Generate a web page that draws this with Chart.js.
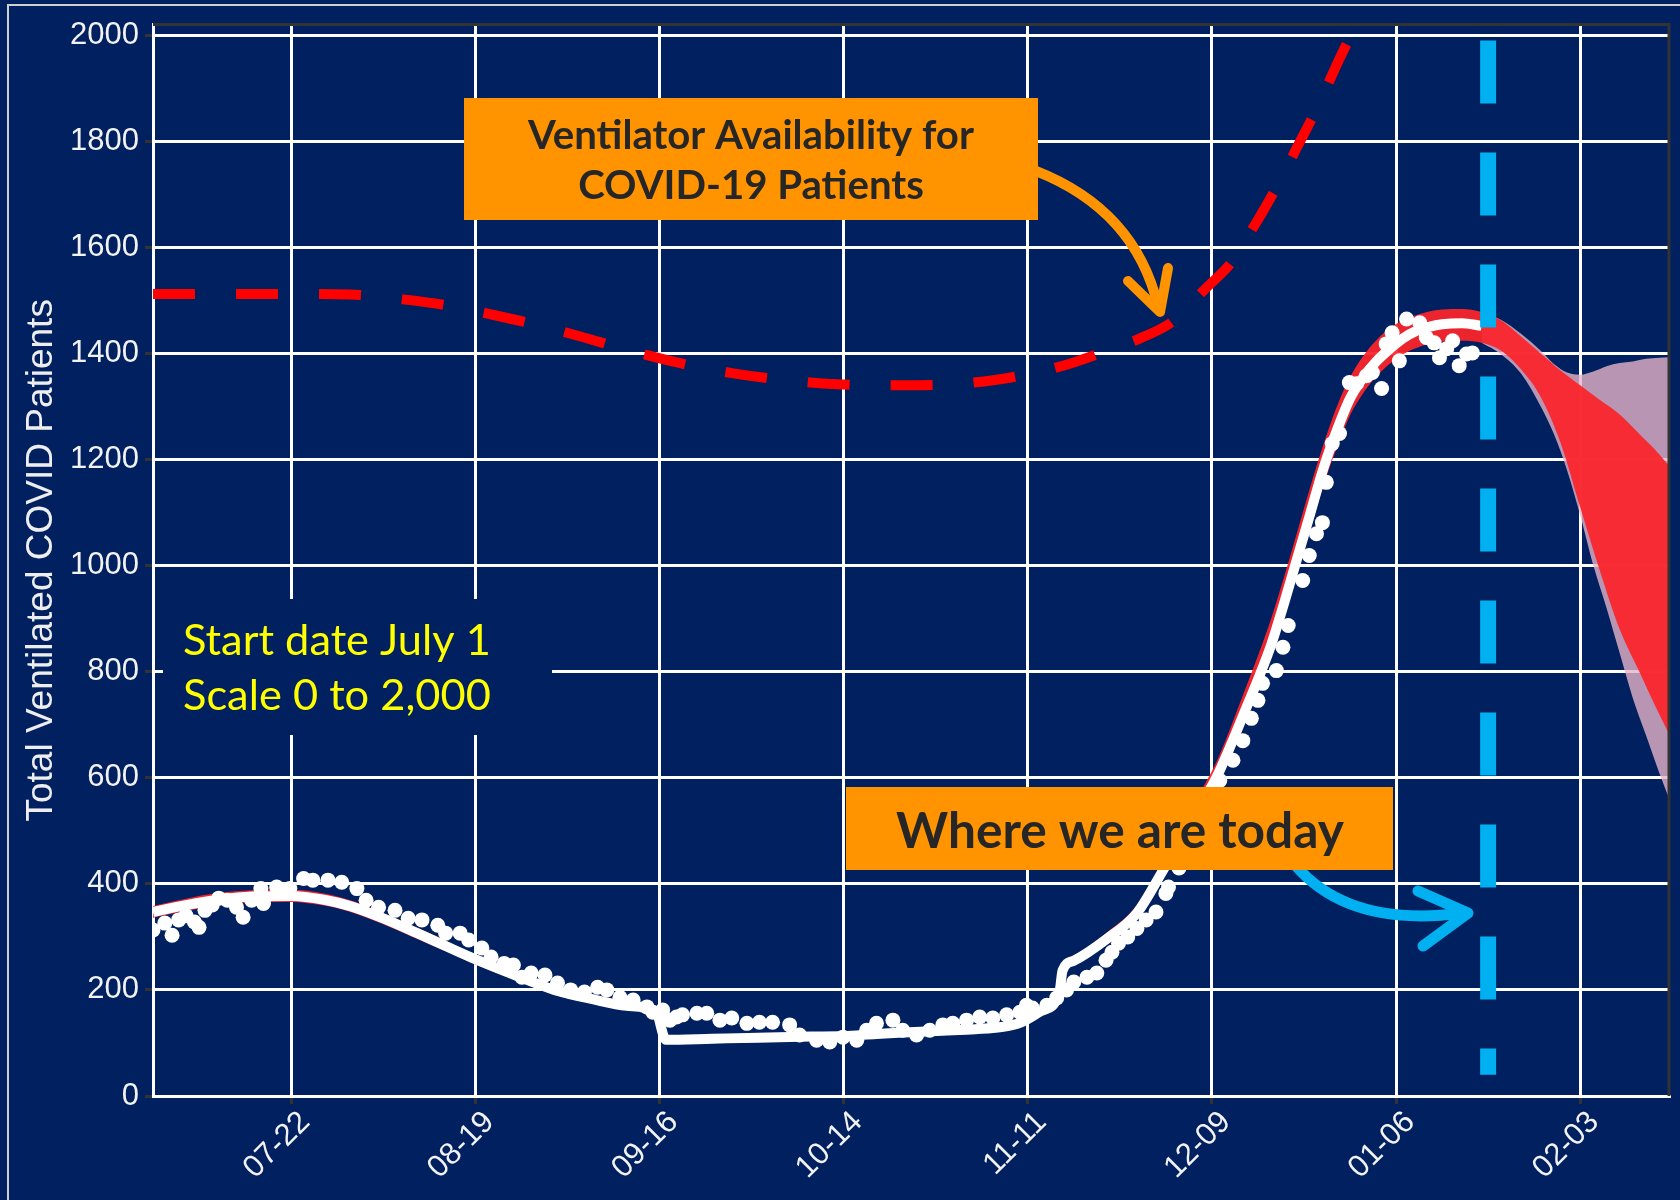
<!DOCTYPE html>
<html>
<head>
<meta charset="utf-8">
<script src="https://cdn.jsdelivr.net/npm/chart.js@4.4.1/dist/chart.umd.min.js"></script>
<style>
html,body{margin:0;padding:0;background:#002060;}
canvas{display:block;}
</style>
</head>
<body>
<canvas id="c" width="1680" height="1200"></canvas>
<script>
// ---- axis ticks (x = days since July 1) ----
const xTickDays   = [21, 49, 77, 105, 133, 161, 189, 217];
const xTickLabels = ['07-22', '08-19', '09-16', '10-14', '11-11', '12-09', '01-06', '02-03'];
const yTicks      = [0, 200, 400, 600, 800, 1000, 1200, 1400, 1600, 1800, 2000];

// ---- observed ventilated patients (dots) ----
const obsDays = [0, 1.8, 2.9, 3.9, 5, 6.3, 7, 7.9, 9, 10, 11.3, 12.7, 13.7, 15, 16.4, 16.8, 18.8, 20.8, 22.9, 24.3,
  26.6, 28.7, 31, 32.4, 34.3, 36.8, 38.8, 40.9, 43.3, 44.5, 46.7, 48, 50, 51.4, 53.4, 54.8, 56.1, 57.5, 59.6, 61.5,
  63.5, 65.6, 67.6, 69, 71, 73, 75.1, 76, 77.5, 78.6, 79.6, 80.5, 82.7, 84.2, 86.2, 88, 90.3, 92.2, 94.2, 96.8,
  98.3, 100.9, 102.9, 104.9, 107, 108.5, 110, 112.5, 114, 116.1, 118.1, 120.1, 121.6, 123.7, 125.7, 127.7, 129.8, 131.8, 132.8, 133.7,
  135.9, 137.4, 138.9, 140, 142, 143.5, 144.9, 145.8, 146.8, 148.2, 149.6, 151, 152.5, 154, 154.4, 156, 157.5, 159, 160.5, 162.2,
  164.2, 165.7, 167, 168, 168.7, 170.8, 171.8, 172.6, 174.8, 175.8, 176.9, 177.8, 178.4, 179.3, 180.4, 181.9, 183, 184.5, 185.4, 186.8,
  187.5, 188.4, 189.5, 190.6, 192.6, 193.6, 194.8, 195.6, 196.7, 197.6, 198.6, 199.7, 200.6];
const obsValues = [313, 326, 303, 332, 340, 328, 318, 350, 360, 373, 369, 356, 337, 369, 391, 363, 394, 391, 410, 407,
  407, 403, 391, 369, 356, 350, 335, 332, 322, 307, 307, 294, 279, 262, 250, 247, 224, 232, 228, 213,
  200, 196, 205, 200, 186, 181, 168, 158, 162, 143, 149, 153, 156, 156, 143, 147, 137, 139, 139, 134,
  115, 105, 102, 111, 105, 124, 137, 143, 124, 115, 124, 134, 137, 143, 149, 147, 153, 158, 171, 166,
  171, 185, 200, 215, 224, 232, 256, 271, 288, 300, 316, 332, 347, 382, 394, 430, 470, 520, 560, 595,
  633, 670, 712, 746, 778, 802, 846, 887, 972, 1019, 1060, 1081, 1157, 1230, 1249, 1345, 1343, 1358, 1364, 1334,
  1418, 1439, 1386, 1465, 1458, 1430, 1420, 1392, 1409, 1424, 1377, 1399, 1401];

// ---- model fit (white line) ----
const fitDays = [0, 5, 10, 15, 21, 26, 30, 35, 40, 45, 49, 55, 61, 67, 72, 76.5, 78, 85, 92, 100,
  105, 110, 115, 120, 125, 129, 132, 135, 137.8, 138.3, 140, 145, 149.6, 153.4, 157, 161.7, 164, 166, 168, 170,
  172, 174, 176, 178, 180, 182, 184, 186, 188, 190, 192, 194, 196, 199, 202];
const fitValues = [347, 360, 370, 376, 377, 370, 358, 335, 308, 280, 258, 228, 200, 182, 170, 157, 106, 108, 110, 112,
  113, 117, 120, 123, 126, 130, 139, 160, 194, 237, 255, 296, 345, 422, 500, 601, 665, 725, 785, 850,
  930, 1015, 1100, 1185, 1255, 1315, 1355, 1385, 1408, 1428, 1442, 1450, 1455, 1457, 1452];

// ---- inner (red) uncertainty band ----
const bandDays = [0, 5, 10, 15, 21, 26, 30, 35, 40, 45, 49, 55, 61, 67, 72, 76.5, 78, 85, 92, 100,
  105, 110, 115, 120, 125, 129, 132, 135, 137.8, 138.3, 140, 145, 149.6, 153.4, 157, 161.7, 164, 166, 168, 170,
  172, 174, 176, 178, 180, 182, 184, 186, 188, 190, 192, 194, 196, 199, 202,
  205, 208, 211, 214, 217, 220, 223, 226, 229, 231];
const bandUpper = [358, 372, 383, 388, 389, 382, 369, 345, 318, 290, 267, 236, 208, 190, 178, 165, 113, 115, 117, 119,
  121, 125, 128, 131, 134, 138, 148, 170, 203, 246, 265, 308, 360, 440, 525, 630, 700, 765, 830, 900,
  980, 1065, 1150, 1230, 1300, 1355, 1395, 1425, 1447, 1462, 1472, 1479, 1483, 1484, 1478,
  1462, 1432, 1400, 1368, 1340, 1312, 1285, 1248, 1210, 1180];
const bandLower = [336, 349, 359, 365, 366, 359, 347, 324, 297, 270, 248, 219, 191, 174, 162, 149, 99, 101, 103, 105,
  106, 110, 113, 116, 119, 123, 131, 151, 185, 228, 246, 286, 333, 408, 485, 585, 648, 706, 765, 828,
  905, 988, 1070, 1152, 1222, 1283, 1325, 1356, 1380, 1398, 1410, 1418, 1422, 1424, 1420,
  1405, 1370, 1318, 1232, 1110, 990, 880, 800, 720, 670];

// ---- outer (mauve) uncertainty band, forecast only ----
const wideDays  = [202, 205, 208, 211, 213, 215, 217, 219, 221, 223, 225, 227, 229, 231];
const wideUpper = [1478, 1463, 1437, 1405, 1380, 1364, 1360, 1366, 1376, 1382, 1385, 1390, 1392, 1393];
const wideLower = [1420, 1398, 1362, 1300, 1248, 1180, 1095, 1000, 920, 835, 750, 680, 610, 545];

// ---- ventilator availability (red dashed) ----
const capDays   = [0, 20, 30, 38, 45, 52, 58, 65, 72, 80, 88, 96, 104, 112, 120, 128, 135, 140, 145, 150,
  155, 160, 164, 166, 168, 170, 172, 174, 176, 178, 180, 182.2];
const capValues = [1512, 1512, 1511, 1502, 1490, 1472, 1455, 1432, 1407, 1382, 1363, 1350, 1342, 1340, 1341, 1350, 1366, 1383, 1405, 1428,
  1460, 1522, 1572, 1612, 1652, 1695, 1740, 1790, 1838, 1890, 1945, 2002];

// ---- "today" marker ----
const todayDays   = [203, 203];
const todayValues = [1990, 40];

const toXY = (xs, ys) => xs.map((x, i) => ({ x: x, y: ys[i] }));

const NAVY = '#002060';
const ORANGE = '#FF9400';
const BLUE = '#00B0F0';
const TXT = '#F2F2F2';
const ANNO_FONT = 'Lato, "Open Sans", sans-serif';

function fitSize(c, text, weight, target) {
  c.font = weight + ' 100px ' + ANNO_FONT;
  return 100 * target / c.measureText(text).width;
}

const bgPlugin = {
  id: 'bg',
  beforeDraw(chart) {
    const c = chart.ctx;
    c.save();
    c.fillStyle = NAVY;
    c.fillRect(0, 0, chart.width, chart.height);
    c.restore();
  }
};

const annoPlugin = {
  id: 'anno',
  afterDatasetsDraw(chart) {
    const c = chart.ctx;
    c.save();
    // "Start date" panel (covers the grid)
    c.fillStyle = NAVY;
    c.fillRect(163, 599, 389, 136);
    let fs = fitSize(c, 'Start date July 1', '400', 308);
    c.font = '400 ' + fs + 'px ' + ANNO_FONT;
    c.fillStyle = '#FFFF00';
    c.textAlign = 'left';
    c.textBaseline = 'alphabetic';
    c.fillText('Start date July 1', 183, 655);
    c.fillText('Scale 0 to 2,000', 183, 710);

    // arrows
    c.lineCap = 'round';
    c.lineJoin = 'round';
    c.strokeStyle = ORANGE;
    c.lineWidth = 10;
    c.beginPath(); c.moveTo(1036, 171); c.quadraticCurveTo(1135, 210, 1158, 306); c.stroke();
    c.beginPath(); c.moveTo(1128, 281); c.lineTo(1160, 312); c.lineTo(1168, 268); c.stroke();

    c.strokeStyle = BLUE;
    c.lineWidth = 11;
    c.beginPath(); c.moveTo(1296, 866); c.quadraticCurveTo(1350, 928, 1462, 913); c.stroke();
    c.beginPath(); c.moveTo(1418, 891); c.lineTo(1468, 913); c.lineTo(1423, 946); c.stroke();

    // orange boxes
    c.fillStyle = ORANGE;
    c.fillRect(464, 98, 574, 122);
    c.fillRect(846, 787, 547, 83);
    c.fillStyle = '#262626';
    c.textAlign = 'center';
    fs = fitSize(c, 'Ventilator Availability for', '700', 446);
    c.font = '700 ' + fs + 'px ' + ANNO_FONT;
    c.fillText('Ventilator Availability for', 751, 149);
    c.fillText('COVID-19 Patients', 751, 199);
    fs = fitSize(c, 'Where we are today', '700', 448);
    c.font = '700 ' + fs + 'px ' + ANNO_FONT;
    c.fillText('Where we are today', 1120, 848);
    c.restore();
  },
  afterDraw(chart) {
    const c = chart.ctx;
    const a = chart.chartArea;
    c.save();
    // panel top/right edge
    c.strokeStyle = '#333333';
    c.lineWidth = 3;
    c.beginPath();
    c.moveTo(a.left, a.top);
    c.lineTo(a.right, a.top);
    c.lineTo(a.right, a.bottom);
    c.stroke();
    // slide frame
    c.strokeStyle = '#CFCFCF';
    c.lineWidth = 2;
    c.beginPath();
    c.moveTo(8, 1200);
    c.lineTo(8, 5);
    c.lineTo(1680, 5);
    c.stroke();
    c.restore();
  }
};

const tickFont = { family: '"Liberation Sans", Arial, sans-serif', size: 31 };

new Chart(document.getElementById('c'), {
  type: 'line',
  data: {
    datasets: [
      { label: 'wideLower', data: toXY(wideDays, wideLower), borderColor: 'rgba(0,0,0,0)', borderWidth: 0,
        pointRadius: 0, fill: false, order: 7, cubicInterpolationMode: 'monotone' },
      { label: 'wideUpper', data: toXY(wideDays, wideUpper), borderColor: 'rgba(0,0,0,0)', borderWidth: 0,
        pointRadius: 0, fill: '-1', backgroundColor: 'rgba(230,180,200,0.8)', order: 6, cubicInterpolationMode: 'monotone' },
      { label: 'bandLower', data: toXY(bandDays, bandLower), borderColor: 'rgba(0,0,0,0)', borderWidth: 0,
        pointRadius: 0, fill: false, order: 5, cubicInterpolationMode: 'monotone' },
      { label: 'bandUpper', data: toXY(bandDays, bandUpper), borderColor: 'rgba(0,0,0,0)', borderWidth: 0,
        pointRadius: 0, fill: '-1', backgroundColor: 'rgba(250,36,42,0.94)', order: 4, cubicInterpolationMode: 'monotone' },
      { label: 'capacity', data: toXY(capDays, capValues), borderColor: '#FF0000', borderWidth: 10,
        borderDash: [42, 41], borderCapStyle: 'butt', pointRadius: 0, fill: false, order: 3,
        cubicInterpolationMode: 'monotone', clip: 0 },
      { label: 'fit', data: toXY(fitDays, fitValues), borderColor: '#FFFFFF', borderWidth: 10,
        borderCapStyle: 'butt', borderJoinStyle: 'round', pointRadius: 0, fill: false, order: 2,
        cubicInterpolationMode: 'monotone' },
      { label: 'observed', data: toXY(obsDays, obsValues), showLine: false, pointRadius: 7.5,
        pointBackgroundColor: '#FFFFFF', pointBorderWidth: 0, order: 1, clip: 0 },
      { label: 'today', data: toXY(todayDays, todayValues), borderColor: BLUE, borderWidth: 16,
        borderDash: [63, 49], borderCapStyle: 'butt', pointRadius: 0, fill: false, order: 0 }
    ]
  },
  options: {
    responsive: false,
    animation: false,
    events: [],
    devicePixelRatio: 1,
    layout: { padding: { top: 23, right: 11, left: 0, bottom: 0 } },
    plugins: {
      legend: { display: false },
      tooltip: { enabled: false },
      colors: { enabled: false }
    },
    scales: {
      x: {
        type: 'linear',
        min: 0,
        max: 230.5,
        afterBuildTicks: (s) => { s.ticks = xTickDays.map(v => ({ value: v })); },
        afterFit: (s) => { s.height = 104; },
        ticks: {
          autoSkip: false, maxRotation: 45, minRotation: 45, color: TXT, font: tickFont,
          padding: 0, labelOffset: 14,
          callback: (v, i) => xTickLabels[i]
        },
        grid: { color: '#FFFFFF', lineWidth: 3, tickColor: '#333333', tickLength: 8, tickWidth: 3 },
        border: { color: '#FFFFFF', width: 3 }
      },
      y: {
        min: 0,
        max: 2020,
        afterBuildTicks: (s) => { s.ticks = yTicks.map(v => ({ value: v })); },
        afterFit: (s) => { s.width = 153; },
        ticks: { color: TXT, font: tickFont, padding: 6, callback: (v) => String(v) },
        grid: { color: '#FFFFFF', lineWidth: 3, tickColor: '#333333', tickLength: 8, tickWidth: 3 },
        border: { color: '#FFFFFF', width: 3 },
        title: {
          display: true,
          text: 'Total Ventilated COVID Patients',
          color: '#EEEEEE',
          font: { family: '"Liberation Sans", Arial, sans-serif', size: 37 },
          padding: { top: 20, bottom: 0 }
        }
      }
    }
  },
  plugins: [bgPlugin, annoPlugin]
});
</script>
</body>
</html>
